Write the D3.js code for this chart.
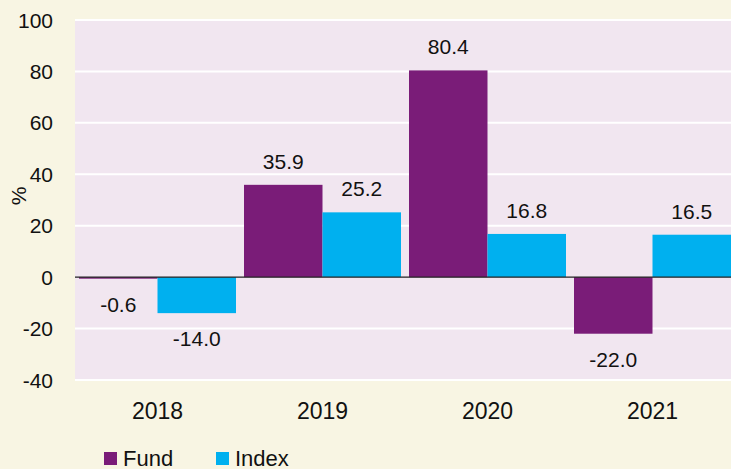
<!DOCTYPE html>
<html><head><meta charset="utf-8">
<script src="https://cdn.jsdelivr.net/npm/d3@7/dist/d3.min.js"></script>
<style>
html,body{margin:0;padding:0;background:#f8f5e3;}
svg{display:block;}
text{font-family:"Liberation Sans",Arial,Helvetica,sans-serif;fill:#111;}
</style></head>
<body><svg id="c" width="731" height="469"></svg>
<script>
const categories = ["2018","2019","2020","2021"];
const seriesNames = ["Fund","Index"];
const fundValues = [-0.6, 35.9, 80.4, -22.0];
const indexValues = [-14.0, 25.2, 16.8, 16.5];
const yTicks = [-40,-20,0,20,40,60,80,100];
const colors = {Fund:"#7a1c78", Index:"#00b0ef"};

(function(){
const W=731,H=469;
const svg=d3.select("#c");
svg.append("rect").attr("width",W).attr("height",H).attr("fill","#f8f5e3");
const pL=75, pR=735, pT=20, pB=380;
const y=d3.scaleLinear().domain([-40,100]).range([pB,pT]);
const x0=d3.scaleBand().domain(categories).range([pL,pR]).paddingInner(0).paddingOuter(0);
const x1=d3.scaleBand().domain(seriesNames).range([4,x0.bandwidth()-4]).padding(0);

svg.append("clipPath").attr("id","pc").append("rect")
  .attr("x",pL).attr("y",pT-2).attr("width",W-pL).attr("height",pB-pT+4);
const g=svg.append("g").attr("clip-path","url(#pc)");
g.append("rect").attr("x",pL).attr("y",pT).attr("width",W-pL).attr("height",pB-pT+1).attr("fill","#f1e6f0");
g.selectAll("line.grid").data(yTicks.filter(d=>d!==0)).join("line").attr("class","grid")
  .attr("x1",pL).attr("x2",W).attr("y1",d=>y(d)).attr("y2",d=>y(d))
  .attr("stroke","#ffffff").attr("stroke-width",2);

const data=categories.map((c,i)=>({cat:c,vals:[{s:"Fund",v:fundValues[i]},{s:"Index",v:indexValues[i]}]}));
const grp=g.selectAll("g.grp").data(data).join("g").attr("class","grp").attr("transform",d=>`translate(${x0(d.cat)},0)`);
grp.selectAll("rect").data(d=>d.vals).join("rect")
  .attr("x",d=>x1(d.s)).attr("width",x1.bandwidth())
  .attr("y",d=>y(Math.max(0,d.v))).attr("height",d=>Math.abs(y(d.v)-y(0)))
  .attr("fill",d=>colors[d.s]);
g.append("line").attr("x1",pL).attr("x2",W).attr("y1",y(0)).attr("y2",y(0)).attr("stroke","#222").attr("stroke-width",1.2);

const lab=svg.append("g");
data.forEach(d=>{
  d.vals.forEach(p=>{
    const cx=x0(d.cat)+x1(p.s)+x1.bandwidth()/2;
    lab.append("text").attr("x",cx)
      .attr("y",p.v>=0? y(p.v)-16 : y(p.v)+33)
      .attr("text-anchor","middle").attr("font-size",21)
      .text(p.v.toFixed(1));
  });
});

svg.append("g").selectAll("text").data(yTicks).join("text")
  .attr("x",53).attr("y",d=>y(d)+7.5).attr("text-anchor","end").attr("font-size",21)
  .text(d=>d);
svg.append("text").attr("transform",`translate(26,196) rotate(-90)`)
  .attr("text-anchor","middle").attr("font-size",21).text("%");

svg.append("g").selectAll("text").data(categories).join("text")
  .attr("x",d=>x0(d)+x0.bandwidth()/2).attr("y",419).attr("text-anchor","middle").attr("font-size",23)
  .text(d=>d);

const legX=[104,216];
seriesNames.forEach((s,i)=>{
  svg.append("rect").attr("x",legX[i]).attr("y",452).attr("width",13).attr("height",13).attr("fill",colors[s]);
  svg.append("text").attr("x",legX[i]+19).attr("y",465.5).attr("font-size",22).text(s);
});
})();
</script></body></html>
